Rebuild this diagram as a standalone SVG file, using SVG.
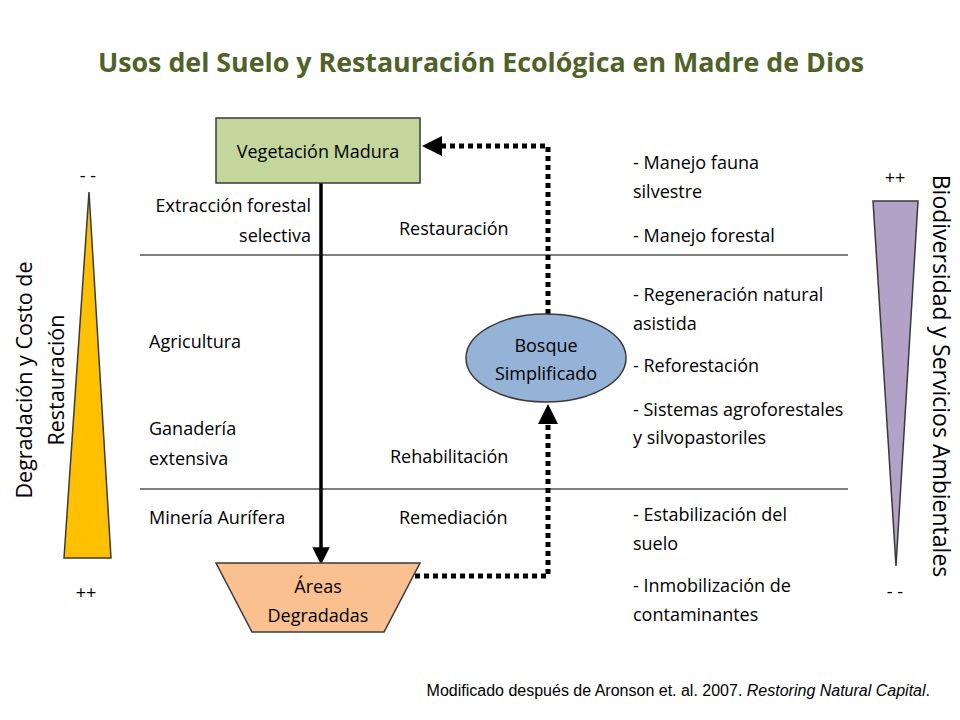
<svg xmlns="http://www.w3.org/2000/svg" width="960" height="720" viewBox="0 0 960 720">
<style>
text{font-family:"Open Sans","Liberation Sans",sans-serif;font-size:18px;fill:#000}
.t{font-size:26.8px;font-weight:bold;fill:#4F6228}
.r{font-size:21.5px}
.r2{font-size:23px}
.c{text-anchor:middle}
.e{text-anchor:end}
.dot{fill:none;stroke:#000;stroke-width:5;stroke-dasharray:5 4}
.sh{stroke:#3a3a3a;stroke-width:1.5}
</style>
<defs>
<marker id="ah" viewBox="0 0 10 10" refX="5" refY="5" markerWidth="4" markerHeight="4" orient="auto"><path d="M0,0L10,5L0,10z" fill="#000"/></marker>
<marker id="ah2" viewBox="0 0 10 10" refX="5" refY="5" markerWidth="5" markerHeight="5" orient="auto"><path d="M0,0L10,5L0,10z" fill="#000"/></marker>
</defs>
<rect width="960" height="720" fill="#fff"/>
<text class="t c" x="481" y="72">Usos del Suelo y Restauración Ecológica en Madre de Dios</text>
<g id="lines" stroke="#000" stroke-width="1">
<line x1="140" y1="255" x2="848" y2="255"/>
<line x1="140" y1="489" x2="848" y2="489"/>
</g>
<g id="connectors">
<line x1="321" y1="183" x2="321" y2="556" stroke="#000" stroke-width="3.5" marker-end="url(#ah2)"/>
<polyline class="dot" points="548,314 548,146 432,146" marker-end="url(#ah)"/>
<polyline class="dot" points="406,576 548,576 548,414" marker-end="url(#ah)"/>
</g>
<g id="veg"><rect x="216" y="118" width="204" height="65" fill="#C3D69B" class="sh"/><text class="c" x="318" y="158">Vegetación Madura</text></g>
<g id="areas"><polygon points="216,563 420,563 384,632 252,632" fill="#FAC090" class="sh"/><text class="c" x="318" y="593">Áreas</text><text class="c" x="318" y="622">Degradadas</text></g>
<g id="bosque"><ellipse cx="546" cy="358" rx="80" ry="44" fill="#95B3D7" class="sh"/><text class="c" x="546" y="352">Bosque</text><text class="c" x="546" y="380">Simplificado</text></g>
<g id="leftTri"><polygon points="89,192 111,558 64,558" fill="#FFC000" class="sh"/><text class="c" x="88" y="182">- -</text><text class="c" x="86" y="599">++</text>
<text class="c r" transform="translate(32,380) rotate(-90)">Degradación y Costo de</text>
<text class="c r" transform="translate(64,380) rotate(-90)">Restauración</text></g>
<g id="rightTri"><polygon points="873,201 918,201 896,566" fill="#B2A2C7" class="sh"/><text class="c" x="895" y="184">++</text><text class="c" x="895" y="598">- -</text>
<text class="c r2" transform="translate(933,376) rotate(90)">Biodiversidad y Servicios Ambientales</text></g>
<g id="labels">
<text class="e" x="311" y="212">Extracción forestal</text>
<text class="e" x="311" y="242">selectiva</text>
<text x="149" y="348">Agricultura</text>
<text x="149" y="435">Ganadería</text>
<text x="149" y="465">extensiva</text>
<text x="149" y="524">Minería Aurífera</text>
<text x="399" y="235">Restauración</text>
<text x="390" y="463">Rehabilitación</text>
<text x="399" y="524">Remediación</text>
<text x="633" y="169">- Manejo fauna</text>
<text x="633" y="198">silvestre</text>
<text x="633" y="242">- Manejo forestal</text>
<text x="633" y="301">- Regeneración natural</text>
<text x="633" y="330">asistida</text>
<text x="633" y="372">- Reforestación</text>
<text x="633" y="416">- Sistemas agroforestales</text>
<text x="633" y="444">y silvopastoriles</text>
<text x="633" y="521">- Estabilización del</text>
<text x="633" y="550">suelo</text>
<text x="633" y="592">- Inmobilización de</text>
<text x="633" y="621">contaminantes</text>
<text x="930" y="696" class="e" style="font-family:'Liberation Sans',sans-serif;font-size:16px">Modificado después de Aronson et. al. 2007. <tspan font-style="italic">Restoring Natural Capital</tspan>.</text>
</g>
</svg>
